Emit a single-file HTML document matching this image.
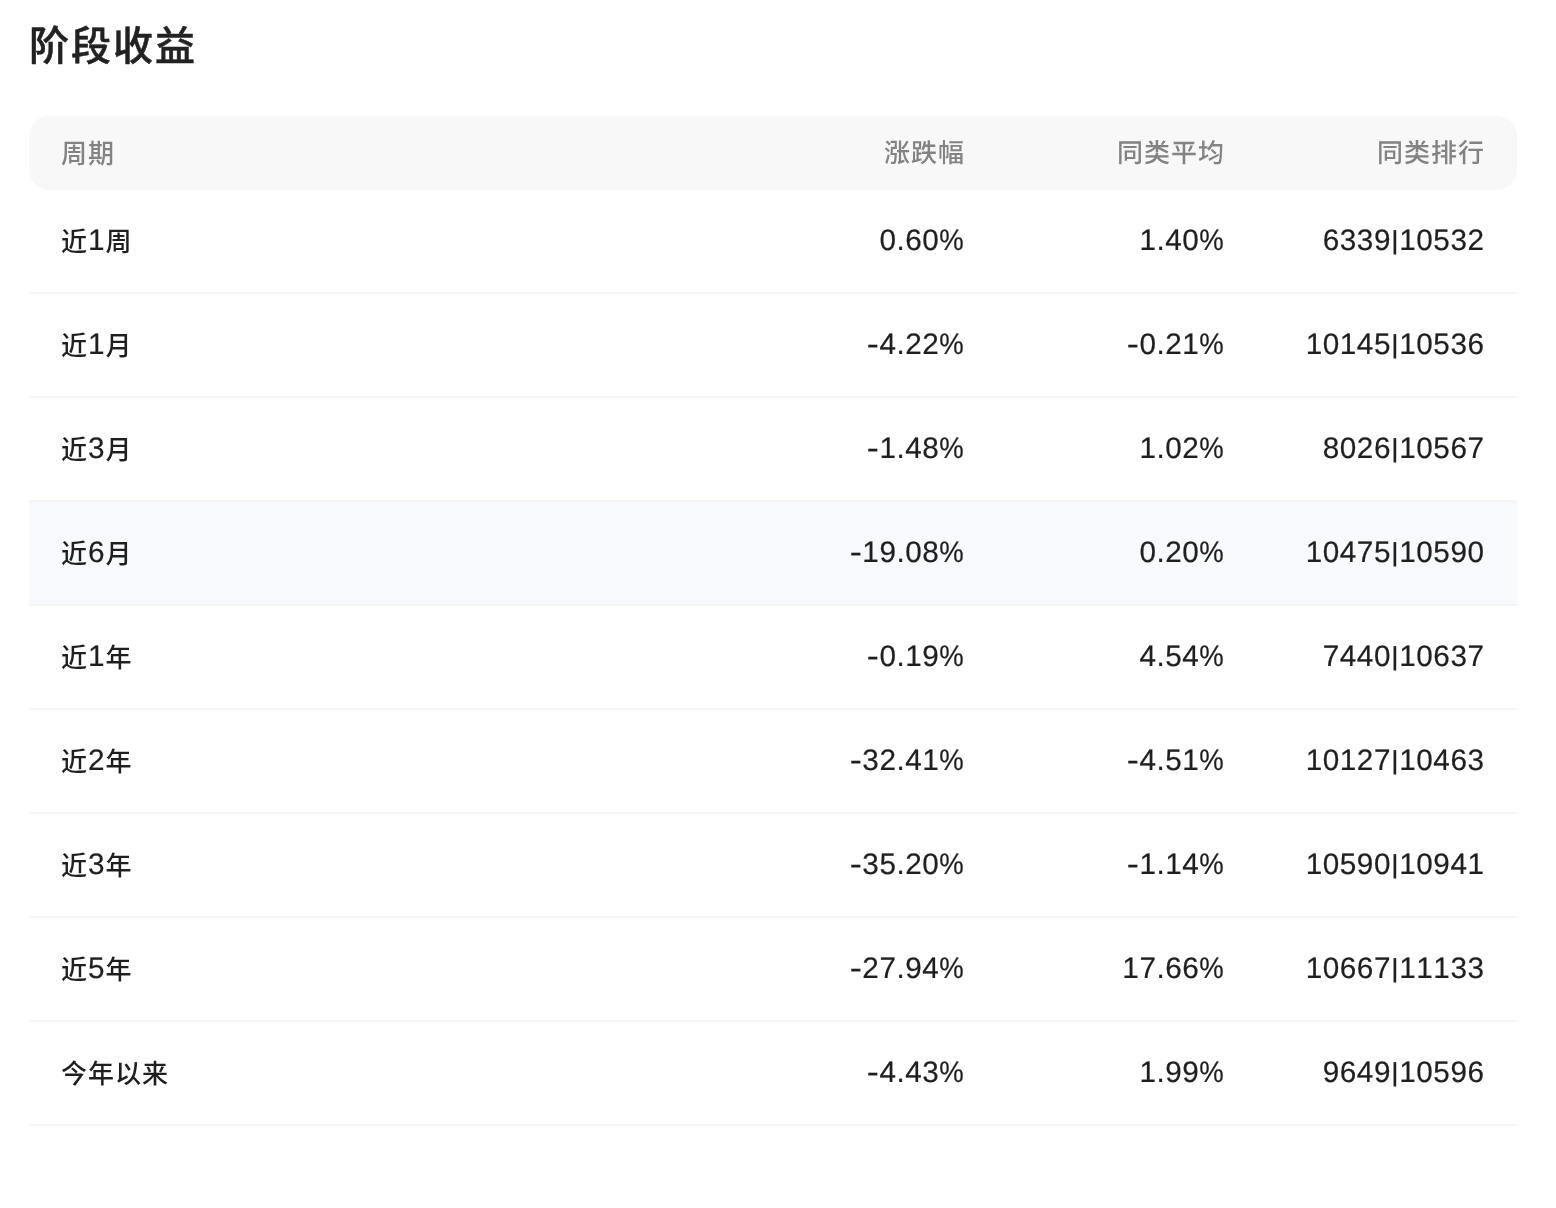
<!DOCTYPE html>
<html lang="zh-CN">
<head>
<meta charset="utf-8">
<title>阶段收益</title>
<style>
*{box-sizing:border-box;margin:0;padding:0}
html,body{width:1556px;height:1208px;background:#fff;overflow:hidden}
body{font-family:"Liberation Sans","Noto Sans CJK SC",sans-serif;color:#1f1f1f;position:relative}
h1{position:absolute;left:29px;top:16px;font-size:40px;line-height:60px;font-weight:500;-webkit-text-stroke:0.5px #222;color:#222;letter-spacing:2px}
.tbl{position:absolute;left:29px;top:116px;width:1488px}
.row{display:flex;height:104px;align-items:center;border-bottom:2px solid #f6f6f6;font-size:26px;letter-spacing:1px;font-weight:500;padding:0 33px 0 32px}
.c2,.c3,.c4{text-rendering:geometricPrecision;-webkit-text-stroke:0.2px #1f1f1f;font-kerning:none;font-size:29.7px;letter-spacing:0.55px;position:relative;left:0.55px;top:0;font-weight:400}
.hd .c2,.hd .c3,.hd .c4{-webkit-text-stroke:0;top:-1.5px;font-size:26px;letter-spacing:1px;left:1px;font-weight:500}
.d{text-rendering:geometricPrecision;-webkit-text-stroke:0.2px #1f1f1f;position:relative;top:-1px;font-size:29.7px;padding:0 1px 0 0;font-weight:400;letter-spacing:0}
.row.hd{height:74px;background:#f8f8f8;border-radius:20px;border-bottom:none;color:#838383}
.row.hl{background:#f8f9fd;border-bottom-color:#f3f4f8}
.p{display:inline-block;transform:translateX(-0.7px) scaleX(.925);transform-origin:100% 50%;margin-left:-1.8px}
.m{display:inline-block;transform:scaleX(1.22);transform-origin:100% 50%}
.b{display:inline-block;transform:scaleY(.875)}
.c1{flex:1;text-align:left;position:relative;top:-1px}
.c1.nd{top:-2px}
.c2,.c3,.c4{width:260px;text-align:right}
.c2{width:300px}
</style>
</head>
<body>
<h1>阶段收益</h1>
<div class="tbl">
<div class="row hd"><div class="c1 nd">周期</div><div class="c2">涨跌幅</div><div class="c3">同类平均</div><div class="c4">同类排行</div></div>
<div class="row"><div class="c1">近<span class="d">1</span>周</div><div class="c2">0.60<span class="p">%</span></div><div class="c3">1.40<span class="p">%</span></div><div class="c4">6339<span class="b">|</span>10532</div></div>
<div class="row"><div class="c1">近<span class="d">1</span>月</div><div class="c2"><span class="m">-</span>4.22<span class="p">%</span></div><div class="c3"><span class="m">-</span>0.21<span class="p">%</span></div><div class="c4">10145<span class="b">|</span>10536</div></div>
<div class="row"><div class="c1">近<span class="d">3</span>月</div><div class="c2"><span class="m">-</span>1.48<span class="p">%</span></div><div class="c3">1.02<span class="p">%</span></div><div class="c4">8026<span class="b">|</span>10567</div></div>
<div class="row hl"><div class="c1">近<span class="d">6</span>月</div><div class="c2"><span class="m">-</span>19.08<span class="p">%</span></div><div class="c3">0.20<span class="p">%</span></div><div class="c4">10475<span class="b">|</span>10590</div></div>
<div class="row"><div class="c1">近<span class="d">1</span>年</div><div class="c2"><span class="m">-</span>0.19<span class="p">%</span></div><div class="c3">4.54<span class="p">%</span></div><div class="c4">7440<span class="b">|</span>10637</div></div>
<div class="row"><div class="c1">近<span class="d">2</span>年</div><div class="c2"><span class="m">-</span>32.41<span class="p">%</span></div><div class="c3"><span class="m">-</span>4.51<span class="p">%</span></div><div class="c4">10127<span class="b">|</span>10463</div></div>
<div class="row"><div class="c1">近<span class="d">3</span>年</div><div class="c2"><span class="m">-</span>35.20<span class="p">%</span></div><div class="c3"><span class="m">-</span>1.14<span class="p">%</span></div><div class="c4">10590<span class="b">|</span>10941</div></div>
<div class="row"><div class="c1">近<span class="d">5</span>年</div><div class="c2"><span class="m">-</span>27.94<span class="p">%</span></div><div class="c3">17.66<span class="p">%</span></div><div class="c4">10667<span class="b">|</span>11133</div></div>
<div class="row"><div class="c1 nd">今年以来</div><div class="c2"><span class="m">-</span>4.43<span class="p">%</span></div><div class="c3">1.99<span class="p">%</span></div><div class="c4">9649<span class="b">|</span>10596</div></div>
</div>
</body>
</html>
